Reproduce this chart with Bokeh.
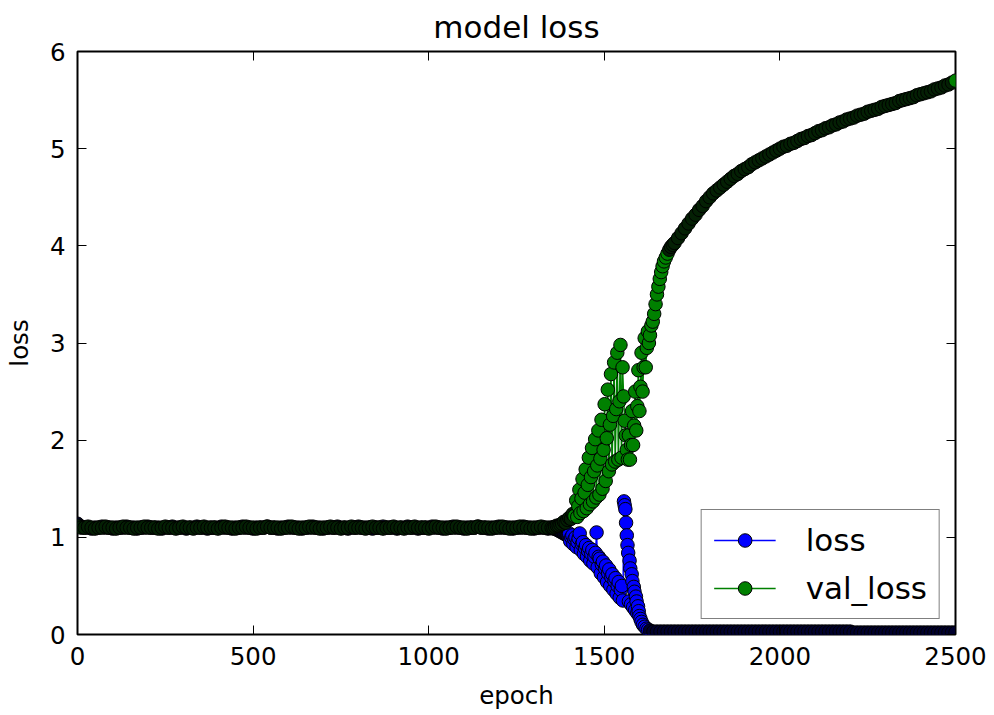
from bokeh.plotting import figure
from bokeh.models import Range1d, LinearAxis, FixedTicker, Legend, LegendItem, ColumnDataSource
from bokeh.embed import file_html
from bokeh.resources import INLINE

# ---------------- data ----------------
x_ticks = [0, 500, 1000, 1500, 2000, 2500]
y_ticks = [0, 1, 2, 3, 4, 5, 6]

# plateau: epochs 0 .. 1340, every 10 epochs
epochs_flat = list(range(0, 1350, 10))
loss_flat = [
    1.14, 1.11, 1.10, 1.10, 1.09, 1.10, 1.10, 1.11, 1.10, 1.10, 1.09, 1.10, 1.10, 1.10, 1.11,
    1.10, 1.10, 1.09, 1.10, 1.10, 1.11, 1.10, 1.10, 1.10, 1.09, 1.10, 1.10, 1.11, 1.10, 1.10,
    1.10, 1.09, 1.10, 1.10, 1.11, 1.10, 1.10, 1.09, 1.10, 1.10, 1.10, 1.11, 1.10, 1.10, 1.09,
    1.10, 1.10, 1.11, 1.10, 1.10, 1.09, 1.10, 1.10, 1.10, 1.11, 1.10, 1.10, 1.09, 1.10, 1.10,
    1.11, 1.10, 1.10, 1.10, 1.09, 1.10, 1.10, 1.11, 1.10, 1.10, 1.09, 1.10, 1.10, 1.10, 1.11,
    1.10, 1.10, 1.09, 1.10, 1.10, 1.11, 1.10, 1.10, 1.10, 1.09, 1.10, 1.10, 1.11, 1.10, 1.10,
    1.10, 1.09, 1.10, 1.10, 1.11, 1.10, 1.10, 1.09, 1.10, 1.10, 1.10, 1.11, 1.10, 1.10, 1.09,
    1.10, 1.10, 1.11, 1.10, 1.10, 1.09, 1.10, 1.10, 1.10, 1.11, 1.10, 1.10, 1.09, 1.10, 1.10,
    1.11, 1.10, 1.10, 1.10, 1.09, 1.10, 1.10, 1.11, 1.10, 1.10, 1.09, 1.10, 1.10, 1.10, 1.09,
]
val_flat = [
    1.12, 1.10, 1.10, 1.11, 1.10, 1.09, 1.10, 1.10, 1.11, 1.10, 1.10, 1.09, 1.10, 1.11, 1.10,
    1.10, 1.09, 1.10, 1.10, 1.11, 1.10, 1.10, 1.10, 1.09, 1.10, 1.11, 1.10, 1.10, 1.09, 1.10,
    1.11, 1.10, 1.10, 1.09, 1.10, 1.10, 1.11, 1.10, 1.10, 1.10, 1.09, 1.10, 1.11, 1.10, 1.10,
    1.09, 1.10, 1.10, 1.11, 1.10, 1.10, 1.09, 1.10, 1.10, 1.11, 1.10, 1.10, 1.10, 1.09, 1.10,
    1.10, 1.11, 1.10, 1.09, 1.10, 1.10, 1.11, 1.10, 1.10, 1.09, 1.10, 1.10, 1.11, 1.10, 1.10,
    1.09, 1.10, 1.10, 1.11, 1.10, 1.10, 1.10, 1.09, 1.10, 1.11, 1.10, 1.10, 1.09, 1.10, 1.10,
    1.11, 1.10, 1.10, 1.09, 1.10, 1.10, 1.11, 1.10, 1.10, 1.10, 1.09, 1.10, 1.11, 1.10, 1.10,
    1.09, 1.10, 1.10, 1.11, 1.10, 1.10, 1.09, 1.10, 1.10, 1.11, 1.10, 1.10, 1.10, 1.09, 1.10,
    1.10, 1.11, 1.10, 1.09, 1.10, 1.10, 1.11, 1.10, 1.10, 1.09, 1.10, 1.10, 1.11, 1.10, 1.10,
]

# unstable phase: epochs 1350 .. 1700 (denser sampling)
loss_mid_epochs = (list(range(1350, 1400, 5)) + list(range(1400, 1556, 3)) +
                   list(range(1556, 1602, 2)) +
                   [1603, 1606, 1610, 1615, 1620, 1625, 1630, 1640, 1650, 1660, 1670, 1680, 1690, 1700])
loss_mid = [
    1.10, 1.09, 1.09, 1.08, 1.07, 1.06, 1.05, 1.04, 1.03, 1.02,
    1.04, 0.96, 1.00, 1.02, 0.93, 0.98, 1.00, 0.90, 0.95, 0.99,
    1.04, 0.87, 0.93, 0.95, 0.83, 0.89, 0.92, 0.80, 0.86, 0.89,
    0.76, 0.83, 0.87, 0.73, 0.80, 0.84, 1.05, 0.69, 0.80, 0.78,
    0.63, 0.72, 0.75, 0.59, 0.68, 0.71, 0.54, 0.63, 0.67, 0.50,
    0.59, 0.62, 0.46, 0.55, 0.58, 0.42, 0.50, 0.54, 0.38, 0.46,
    0.50, 0.35,
    1.37, 1.33, 1.29, 1.15, 1.02, 0.92, 0.84, 0.34, 0.76, 0.68,
    0.31, 0.62, 0.55, 0.28, 0.49, 0.44, 0.25, 0.39, 0.34, 0.22,
    0.29, 0.24, 0.19,
    0.16, 0.13, 0.10, 0.08, 0.06, 0.05, 0.04, 0.03, 0.03, 0.03, 0.03, 0.03, 0.03, 0.03,
]
val_mid_epochs = (list(range(1350, 1420, 5)) + list(range(1420, 1568, 3)) +
                  list(range(1570, 1628, 3)) +
                  [1630, 1634, 1638, 1642, 1646, 1650, 1654, 1658, 1662, 1666, 1670,
                   1675, 1680, 1685, 1690, 1695, 1700])
val_mid = [
    1.10, 1.10, 1.11, 1.12, 1.12, 1.13, 1.14, 1.16, 1.15, 1.18, 1.20, 1.19, 1.24, 1.22,
    1.38, 1.21, 1.32, 1.49, 1.25, 1.40, 1.60, 1.27, 1.46, 1.70,
    1.30, 1.54, 1.82, 1.34, 1.62, 1.92, 1.37, 1.68, 2.01, 1.41,
    1.74, 2.10, 1.44, 1.81, 2.21, 1.50, 1.90, 2.37, 1.58, 2.02,
    2.52, 1.68, 2.16, 2.68, 1.75, 2.25, 2.80, 1.78, 2.32, 2.90,
    1.80, 2.40, 2.98, 1.82, 2.75, 2.45, 2.20, 2.05, 1.90, 1.80,
    2.05, 1.80, 1.95, 2.30, 1.95, 2.15, 2.50, 2.10, 2.35, 2.72,
    2.30, 2.55, 2.90, 2.50, 2.75, 3.05, 2.75, 2.95, 3.12, 3.00,
    3.08, 3.18, 3.22, 3.30, 3.40, 3.50, 3.58, 3.66, 3.73, 3.79, 3.84,
    3.88, 3.92, 3.96, 3.99, 4.01, 4.03,
]

# late phase: epochs 1710 .. 2500, every 10 epochs
epochs_late = list(range(1710, 2501, 10))
loss_late = [0.03] * 50 + [0.02] * 30
val_late = [
    4.08, 4.13, 4.18, 4.23, 4.28, 4.32, 4.37, 4.41, 4.46, 4.50,
    4.54, 4.57, 4.60, 4.63, 4.66, 4.69, 4.72, 4.74, 4.77, 4.79,
    4.81, 4.84, 4.86, 4.88, 4.90, 4.92, 4.94, 4.96, 4.98, 5.00,
    5.02, 5.03, 5.05, 5.06, 5.08, 5.10, 5.11, 5.13, 5.14, 5.16,
    5.18, 5.19, 5.21, 5.22, 5.24, 5.25, 5.27, 5.28, 5.30, 5.31,
    5.32, 5.34, 5.35, 5.36, 5.38, 5.39, 5.40, 5.41, 5.43, 5.44,
    5.45, 5.46, 5.47, 5.49, 5.50, 5.51, 5.52, 5.53, 5.55, 5.56,
    5.57, 5.58, 5.59, 5.61, 5.62, 5.63, 5.65, 5.66, 5.68, 5.70,
]

assert len(loss_flat) == len(epochs_flat) == len(val_flat)
assert len(loss_mid) == len(loss_mid_epochs), (len(loss_mid), len(loss_mid_epochs))
assert len(val_mid) == len(val_mid_epochs), (len(val_mid), len(val_mid_epochs))
assert len(val_late) == len(epochs_late) == len(loss_late)

loss_x = epochs_flat + loss_mid_epochs + epochs_late
loss_y = loss_flat + loss_mid + loss_late
val_x = epochs_flat + val_mid_epochs + epochs_late
val_y = val_flat + val_mid + val_late

# where thousands of overlapping markers pile up, matplotlib shows a near-black band
BLUE, BLUE_DENSE = "#0000ff", "#00002e"
GREEN, GREEN_DENSE = "#008000", "#042004"
loss_fill = [BLUE if 1400 <= e <= 1625 else BLUE_DENSE for e in loss_x]
val_fill = [GREEN if 1415 <= e <= 1680 else GREEN_DENSE for e in val_x]
val_fill[-1] = GREEN

loss_src = ColumnDataSource(dict(x=loss_x, y=loss_y, fill=loss_fill))
val_src = ColumnDataSource(dict(x=val_x, y=val_y, fill=val_fill))

FONT = "DejaVu Sans"
TICK_FS = "24.5px"
BIG_FS = "31px"

p = figure(width=990, height=714, output_backend="svg", toolbar_location=None,
           x_range=Range1d(0, 2500), y_range=Range1d(0, 6),
           min_border_left=77, min_border_right=35, min_border_top=49, min_border_bottom=80,
           title="model loss")
p.title.text_font = FONT
p.title.text_font_size = BIG_FS
p.title.text_font_style = "normal"
p.title.text_color = "black"
p.title.align = "center"
p.title.standoff = 13
p.grid.visible = False
p.outline_line_color = "black"
p.outline_line_width = 2
p.background_fill_color = "white"
p.border_fill_color = "white"

def style_axis(ax, labels=True):
    ax.axis_line_color = None
    ax.major_tick_in = 9
    ax.major_tick_out = 0
    ax.minor_tick_in = 0
    ax.minor_tick_out = 0
    ax.major_tick_line_color = "black"
    ax.major_tick_line_width = 1
    if labels:
        ax.major_label_text_font = FONT
        ax.major_label_text_font_size = TICK_FS
        ax.major_label_text_color = "black"
        ax.axis_label_text_font = FONT
        ax.axis_label_text_font_size = TICK_FS
        ax.axis_label_text_font_style = "normal"
        ax.axis_label_text_color = "black"
    else:
        ax.major_label_text_color = None
        ax.major_label_text_font_size = "1px"
        ax.major_label_standoff = 0

xa = p.xaxis[0]
xa.ticker = FixedTicker(ticks=x_ticks)
xa.axis_label = "epoch"
style_axis(xa)
xa.major_label_standoff = 12
xa.axis_label_standoff = 13

ya = p.yaxis[0]
ya.ticker = FixedTicker(ticks=y_ticks)
ya.axis_label = "loss"
style_axis(ya)
ya.major_label_standoff = 12
ya.axis_label_standoff = 13
ya.major_label_orientation = "horizontal"

top_ax = LinearAxis(ticker=FixedTicker(ticks=x_ticks))
style_axis(top_ax, labels=False)
p.add_layout(top_ax, "above")
right_ax = LinearAxis(ticker=FixedTicker(ticks=y_ticks))
style_axis(right_ax, labels=False)
p.add_layout(right_ax, "right")

MS = 13.5
l1 = p.line("x", "y", source=loss_src, line_color=BLUE, line_width=1.5)
s1 = p.scatter("x", "y", source=loss_src, marker="circle", size=MS,
               fill_color="fill", line_color="black", line_width=1)
l2 = p.line("x", "y", source=val_src, line_color=GREEN, line_width=1.5)
s2 = p.scatter("x", "y", source=val_src, marker="circle", size=MS,
               fill_color="fill", line_color="black", line_width=1)

# legend glyphs taken from a point drawn in the plain series colour
idx_loss = loss_fill.index(BLUE)
idx_val = len(val_x) - 1

legend = Legend(items=[LegendItem(label="loss", renderers=[l1, s1], index=idx_loss),
                       LegendItem(label="val_loss", renderers=[l2, s2], index=idx_val)],
                location="bottom_right")
legend.margin = 15
legend.padding = 12
legend.spacing = 12
legend.glyph_width = 62
legend.glyph_height = 34
legend.label_height = 34
legend.label_standoff = 30
legend.label_text_font = FONT
legend.label_text_font_size = BIG_FS
legend.label_text_color = "black"
legend.border_line_color = "black"
legend.border_line_width = 1.5
legend.background_fill_color = "white"
legend.background_fill_alpha = 1.0
p.add_layout(legend)

open("out.html", "w").write(file_html(p, INLINE))
